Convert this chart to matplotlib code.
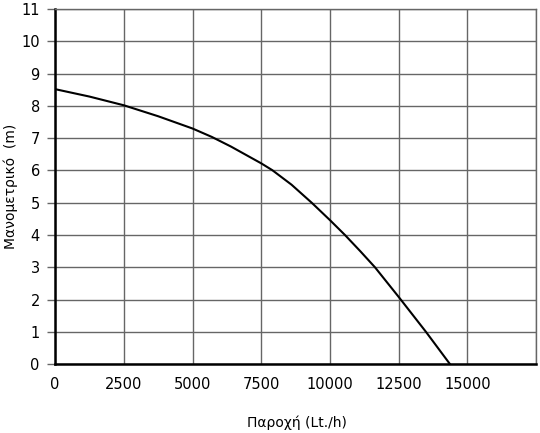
import matplotlib
matplotlib.use("Agg")
import matplotlib.pyplot as plt

# pump curve
flow = [0, 1250, 2500, 3750, 5000, 5700, 6400, 7500, 7900, 8600, 9335,
        10000, 10545, 11100, 11636, 12500, 13490, 14364]
head = [8.52, 8.29, 8.02, 7.68, 7.30, 7.04, 6.74, 6.22, 6.01, 5.56, 5.0,
        4.46, 4.0, 3.5, 3.0, 2.08, 1.0, 0.0]

x_ticks = [0, 2500, 5000, 7500, 10000, 12500, 15000, 17500]
x_labels = ['0', '2500', '5000', '7500', '10000', '12500', '15000', '']
y_ticks = list(range(0, 12))

fig = plt.figure(figsize=(5.4, 4.33), dpi=100)
ax = fig.add_axes([0.102, 0.159, 0.891, 0.82])

ax.plot(flow, head, color='black', lw=1.5, zorder=3)

ax.set_xlim(0, 17500)
ax.set_ylim(0, 11)
ax.set_xticks(x_ticks)
ax.set_xticklabels(x_labels)
ax.set_yticks(y_ticks)

ax.grid(True, color='#666666', lw=1.0)
ax.set_axisbelow(True)

for side in ['top', 'right']:
    ax.spines[side].set_color('#666666')
    ax.spines[side].set_linewidth(1.0)
for side in ['left', 'bottom']:
    ax.spines[side].set_color('black')
    ax.spines[side].set_linewidth(1.8)

ax.tick_params(axis='x', length=0, pad=9, labelsize=10.5)
ax.tick_params(axis='y', length=6, width=1, color='#666666', pad=5, labelsize=10.5)

ax.set_xlabel('Παροχή (Lt./h)', fontsize=10)
ax.set_ylabel('Μανομετρικό  (m)', fontsize=10)
ax.xaxis.set_label_coords(0.502, -0.144)
ax.yaxis.set_label_coords(-0.077, 0.5)

fig.savefig('out.png', dpi=100)
